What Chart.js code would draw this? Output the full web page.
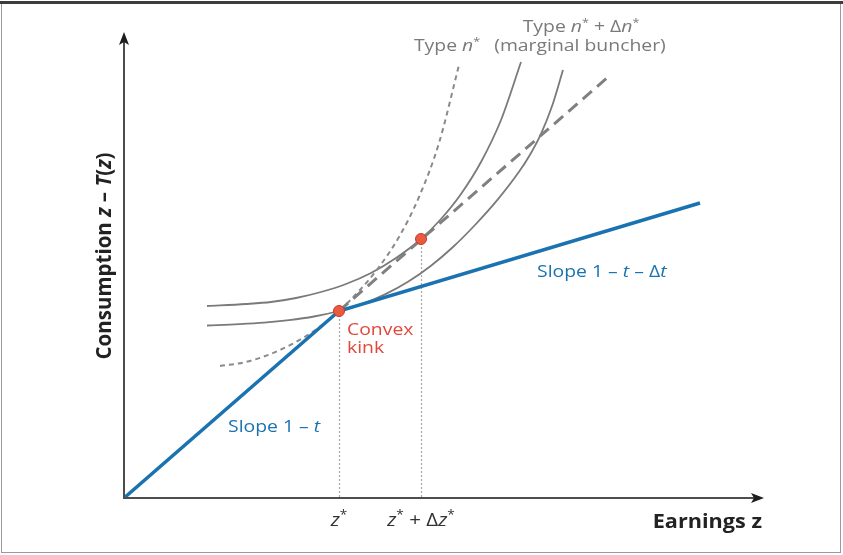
<!DOCTYPE html>
<html>
<head>
<meta charset="utf-8">
<script src="https://cdn.jsdelivr.net/npm/chart.js@4.4.1/dist/chart.umd.min.js"></script>
<style>
  body { margin: 0; background: #fff; }
  #wrap { width: 843px; height: 555px; }
</style>
</head>
<body>
<div id="wrap"><canvas id="myChart" width="843" height="555"></canvas></div>
<script>
// budget line: earnings z vs consumption z - T(z)
const budgetZ = [0, 215, 576]
const budgetC = [0, 187, 295]

// counterfactual linear budget (slope 1 - t) continued past the kink
const linearZ = [215, 483]
const linearC = [187, 420]

// indifference curve of type n* (dotted)
const typeNZ = [96, 119, 143, 167, 191, 215, 235, 255, 275, 295, 315, 335]
const typeNC = [132, 135.4, 142.6, 153.4, 167.8, 187, 207, 231, 261, 301, 355, 433]

// marginal buncher, tangent at z* + dz*
const upperZ = [83, 122, 147, 172, 197, 222, 247, 272, 297, 317, 337, 357, 377, 397]
const upperC = [192, 194, 196, 200, 206, 214, 225, 240, 259, 279, 304, 336, 378, 436]

// marginal buncher, through the kink
const lowerZ = [83, 115, 140, 165, 190, 215, 238, 261, 284, 307, 329, 351, 373, 395, 406, 417, 428, 439]
const lowerC = [172.5, 173.8, 175.3, 177.8, 181.5, 187, 193.9, 203.6, 216.2, 232.3, 251, 273, 297.6, 326.2, 343.3, 364.2, 391.7, 428]

// z* and z* + dz*
const markZ = [215, 297]
const markC = [187, 259]

const pts = (xs, ys) => xs.map((x, i) => ({ x: x, y: ys[i] }))

const F = '"Open Sans", sans-serif'
const SX = 1.14   // the original lettering is a little wider
const GREY = '#7a7a7a'
const BLUE = '#1a73b0'
const RED = '#e2483a'

// draw text made of parts with different styles
const rich = (ctx, parts, x, y, align, sx) => {
  sx = sx || SX
  let w = 0
  parts.forEach(p => { ctx.font = p.f; w += ctx.measureText(p.t).width })
  w *= sx
  const x0 = align === 'center' ? x - w / 2 : (align === 'right' ? x - w : x)
  ctx.save()
  ctx.translate(x0, y)
  ctx.scale(sx, 1)
  let cx = 0
  parts.forEach(p => {
    ctx.font = p.f
    ctx.fillText(p.t, cx, p.dy || 0)
    cx += ctx.measureText(p.t).width
  })
  ctx.restore()
}
const mk = (size, bold) => {
  const b = bold ? 'bold ' : ''
  return {
    n: t => ({ t: t, f: `${b}${size}px ${F}` }),
    i: t => ({ t: t, f: `italic ${b}${size}px ${F}` }),
    s: t => ({ t: t, f: `${b}${Math.round(size * 0.65)}px ${F}`, dy: -size * 0.38 })
  }
}

const decor = {
  id: 'decor',
  beforeDatasetsDraw(chart) {
    const ctx = chart.ctx
    const xs = chart.scales.x, ys = chart.scales.y
    ctx.save()
    // guide lines down to the axis
    ctx.strokeStyle = '#a8a8a8'
    ctx.lineWidth = 1.2
    ctx.setLineDash([2, 2])
    markZ.forEach((z, i) => {
      const px = Math.round(xs.getPixelForValue(z)) + 0.5
      ctx.beginPath()
      ctx.moveTo(px, ys.getPixelForValue(markC[i]))
      ctx.lineTo(px, ys.getPixelForValue(0))
      ctx.stroke()
    })
    ctx.restore()
  },
  afterDraw(chart) {
    const ctx = chart.ctx
    const xs = chart.scales.x, ys = chart.scales.y
    const ox = xs.getPixelForValue(0), oy = ys.getPixelForValue(0)
    const ex = xs.getPixelForValue(xs.max), ey = ys.getPixelForValue(ys.max)
    ctx.save()
    // frame
    ctx.strokeStyle = '#9a9a9a'
    ctx.lineWidth = 1
    ctx.strokeRect(1.5, 1.5, 839, 551)
    ctx.strokeStyle = '#3c3c3c'
    ctx.lineWidth = 3
    ctx.beginPath(); ctx.moveTo(0, 2.5); ctx.lineTo(843, 2.5); ctx.stroke()
    // axes
    ctx.strokeStyle = '#4d4d4d'
    ctx.lineWidth = 2
    ctx.beginPath()
    ctx.moveTo(ox, ey + 8); ctx.lineTo(ox, oy); ctx.lineTo(ex - 8, oy)
    ctx.stroke()
    ctx.fillStyle = '#1e1e1e'
    ctx.beginPath()
    ctx.moveTo(ox, ey); ctx.lineTo(ox - 5, ey + 13); ctx.lineTo(ox, ey + 10); ctx.lineTo(ox + 5, ey + 13)
    ctx.closePath(); ctx.fill()
    ctx.beginPath()
    ctx.moveTo(ex, oy); ctx.lineTo(ex - 13, oy - 5); ctx.lineTo(ex - 10, oy); ctx.lineTo(ex - 13, oy + 5)
    ctx.closePath(); ctx.fill()

    ctx.textBaseline = 'alphabetic'
    let m = mk(17, false)
    // curve labels
    ctx.fillStyle = GREY
    rich(ctx, [m.n('Type '), m.i('n'), m.s('*')], 447, 51, 'center')
    rich(ctx, [m.n('Type '), m.i('n'), m.s('*'), m.n(' + Δ'), m.i('n'), m.s('*')], 581, 32, 'center')
    rich(ctx, [m.n('(marginal buncher)')], 580, 51, 'center')
    // kink
    ctx.fillStyle = RED
    rich(ctx, [m.n('Convex')], 347, 335, 'left')
    rich(ctx, [m.n('kink')], 347, 353, 'left')
    // slopes
    ctx.fillStyle = BLUE
    rich(ctx, [m.n('Slope 1 – '), m.i('t')], 228, 432, 'left')
    rich(ctx, [m.n('Slope 1 – '), m.i('t'), m.n(' – Δ'), m.i('t')], 537, 277, 'left')
    // tick labels
    ctx.fillStyle = '#333'
    m = mk(18, false)
    rich(ctx, [m.i('z'), m.s('*')], xs.getPixelForValue(markZ[0]), 526, 'center')
    rich(ctx, [m.i('z'), m.s('*'), m.n(' + Δ'), m.i('z'), m.s('*')], xs.getPixelForValue(markZ[1]), 526, 'center')
    // axis titles
    ctx.fillStyle = '#222'
    m = mk(19, true)
    rich(ctx, [m.n('Earnings z')], 762, 528, 'right')
    m = mk(20.5, true)
    ctx.translate(111, 256)
    ctx.rotate(-Math.PI / 2)
    rich(ctx, [m.n('Consumption '), m.i('z'), m.n(' – '), m.i('T'), m.n('('), m.i('z'), m.n(')')], 0, 0, 'center', 1)
    ctx.restore()
  }
}

const curve = (data, color, width, dash, smooth) => ({
  data: data,
  showLine: true,
  borderColor: color,
  borderWidth: width,
  borderDash: dash,
  pointRadius: 0,
  cubicInterpolationMode: smooth ? 'monotone' : 'default',
  tension: 0,
  fill: false
})

new Chart('myChart', {
  type: 'scatter',
  data: {
    datasets: [
      {
        data: pts(markZ, markC),
        showLine: false,
        pointRadius: 5.5,
        pointBackgroundColor: '#ea5a40',
        pointBorderColor: '#c23a2a',
        pointBorderWidth: 1
      },
      curve(pts(budgetZ, budgetC), BLUE, 3.5, [], false),
      curve(pts(linearZ, linearC), '#808080', 3, [12, 7], false),
      curve(pts(typeNZ, typeNC), '#8a8a8a', 2, [5, 4], true),
      curve(pts(upperZ, upperC), '#7a7a7a', 1.8, [], true),
      curve(pts(lowerZ, lowerC), '#7a7a7a', 1.8, [], true)
    ]
  },
  options: {
    responsive: false,
    animation: false,
    layout: { padding: { left: 124, right: 79, top: 32, bottom: 57 } },
    scales: {
      x: { type: 'linear', min: 0, max: 640, display: false },
      y: { type: 'linear', min: 0, max: 466, display: false }
    },
    plugins: { legend: { display: false }, tooltip: { enabled: false } }
  },
  plugins: [decor]
})
</script>
</body>
</html>
